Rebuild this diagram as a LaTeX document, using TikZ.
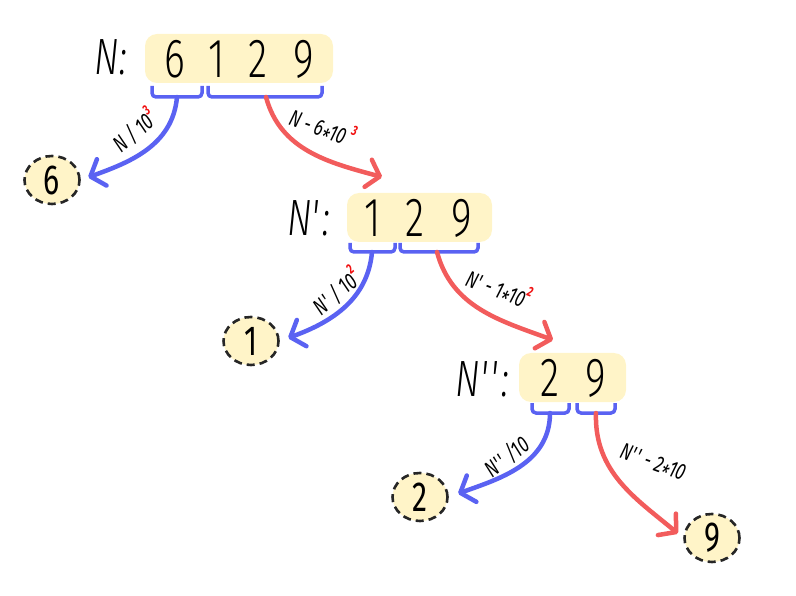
\documentclass[tikz,border=0pt]{standalone}
\usepackage{fontspec}
\setmainfont{Fira Sans}
\newfontfamily\digitfont[FakeStretch=0.72, UprightFont=* Light, ItalicFont=* Light Italic, BoldFont=* Bold]{Fira Sans}
\newfontfamily\opfont[FakeStretch=0.72]{Fira Sans}
\usetikzlibrary{positioning, calc, arrows.meta, shapes.geometric}

\definecolor{numfill}{HTML}{FFF4C8}
\definecolor{splitblue}{HTML}{5A62F2}
\definecolor{splitred}{HTML}{F25C5C}
\definecolor{powred}{HTML}{F01010}

\newcommand\redpow[1]{\raisebox{0.55em}{\textcolor{powred}{\bfseries\fontsize{14}{14}\selectfont #1}}}
\newcommand\mulstar{\raisebox{-0.3em}{*}}
\newcommand\tick{\textquotesingle}

\begin{document}
\begin{tikzpicture}[x=1pt, y=1pt,
  %% yellow number strips
  numbox/.style={
    rectangle, rounded corners=12pt, fill=numfill,
    minimum height=49pt, inner sep=0pt
  },
  %% single digits inside the strips
  digit/.style={font=\digitfont\fontsize{55}{55}\selectfont, inner sep=0pt},
  %% N: names in front of the strips
  numname/.style={font=\digitfont\itshape\fontsize{51}{51}\selectfont,
    inner sep=0pt, anchor=base east},
  %% extracted digits (dashed circles)
  leaf/.style={
    ellipse, draw=black!85, line width=2.6pt, dash pattern=on 8pt off 5pt,
    fill=numfill, minimum width=55pt, minimum height=48pt, inner sep=0pt,
    font=\opfont\fontsize{42}{42}\selectfont
  },
  %% brackets under the digit groups
  grp/.style={draw=splitblue, line width=3.5pt, rounded corners=4pt},
  %% arrows
  arr/.style={-{Straight Barb[length=12pt,width=28pt,round]},
    line width=4.5pt, line cap=round},
  %% operation labels on the arrows
  op/.style={font=\opfont\itshape\fontsize{23}{23}\selectfont, inner sep=0pt}
]

\useasboundingbox (0,0) rectangle (796,-596);

%% ================================================================
%% ROW 1 -- N = 6129
%% ================================================================
\node[numbox, minimum width=188pt] (box1) at (239,-58.5) {};
\node[digit] (d6a) at (175,-59) {6};
\node[digit] (d1a) at (217,-59) {1};
\node[digit] (d2a) at (258,-59) {2};
\node[digit] (d9a) at (304,-59) {9};
\node[numname] (name1) at (127,-75) {N:};

\draw[grp] (152,-86) -- (152,-97) -- (202,-97) -- (202,-86);
\draw[grp] (208,-86) -- (208,-97) -- (322,-97) -- (322,-86);
\coordinate (g6) at (177,-97);
\coordinate (g129) at (266,-97);

\node[leaf] (leaf6) at (52,-180) {6};
\coordinate (in2) at (382,-177);

\draw[arr, splitblue, shorten >=8pt] (g6) to[out=-95, in=20] (leaf6.east);
\draw[arr, splitred] (g129) to[out=-75, in=165] (in2);

\node[op, rotate=40] (op1) at (134,-130) {N / 10\redpow{3}};
\node[op, rotate=-20] (op2) at (322,-129) {N - 6\mulstar10\,\redpow{3}};

%% ================================================================
%% ROW 2 -- N' = 129
%% ================================================================
\node[numbox, minimum width=145pt] (box2) at (419.5,-217.5) {};
\node[digit] (d1b) at (373,-218) {1};
\node[digit] (d2b) at (415,-218) {2};
\node[digit] (d9b) at (462,-218) {9};
\node[numname] (name2) at (330,-236) {N\tick:};

\draw[grp] (350,-243) -- (350,-252) -- (395,-252) -- (395,-243);
\draw[grp] (400,-243) -- (400,-252) -- (478,-252) -- (478,-243);
\coordinate (g1) at (372,-252);
\coordinate (g29) at (437,-252);

\node[leaf] (leaf1) at (251,-341) {1};
\coordinate (in3) at (553,-340);

\draw[arr, splitblue, shorten >=9pt] (g1) to[out=-95, in=20] (leaf1.east);
\draw[arr, splitred] (g29) to[out=-75, in=160] (in3);

\node[op, rotate=40] (op3) at (336,-291) {N\tick{} / 10\redpow{2}};
\node[op, rotate=-21] (op4) at (498,-290) {N\tick{} - 1\mulstar10\redpow{2}};

%% ================================================================
%% ROW 3 -- N'' = 29
%% ================================================================
\node[numbox, minimum width=107pt] (box3) at (572.5,-377.5) {};
\node[digit] (d2c) at (550,-378) {2};
\node[digit] (d9c) at (596,-378) {9};
\node[numname] (name3) at (509,-396) {N\tick\tick:};

\draw[grp] (532,-403) -- (532,-413) -- (569,-413) -- (569,-403);
\draw[grp] (577,-403) -- (577,-413) -- (615,-413) -- (615,-403);
\coordinate (g2) at (550,-413);
\coordinate (g9) at (596,-413);

\node[leaf] (leaf2) at (420,-497) {2};
\node[leaf] (leaf9) at (712,-538) {9};

\draw[arr, splitblue, shorten >=10pt] (g2) to[out=-90, in=20] (leaf2.east);
\draw[arr, splitred, shorten >=7pt] (g9) to[out=-92, in=140] (leaf9.west);

\node[op, rotate=38] (op5) at (507,-457) {N\tick\tick{} /10};
\node[op, rotate=-20] (op6) at (652,-465) {N\tick\tick{} - 2\mulstar10};

\end{tikzpicture}
\end{document}
